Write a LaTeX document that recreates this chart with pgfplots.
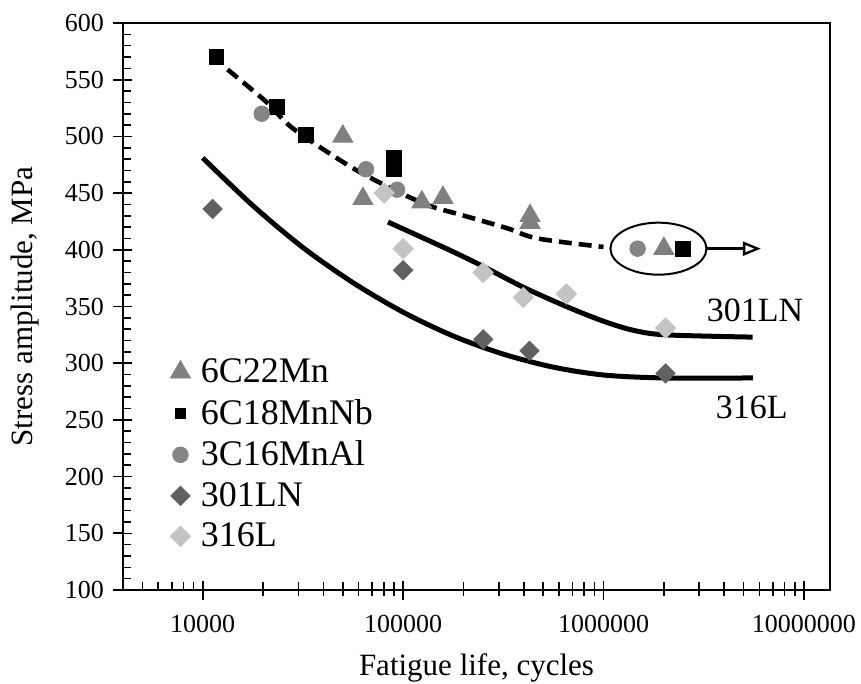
\documentclass[border=0pt]{standalone}
\usepackage{pgfplots}
\pgfplotsset{compat=1.18}
\usepackage{fontspec}
\setmainfont{Liberation Serif}
\usetikzlibrary{arrows.meta}
\definecolor{triG}{gray}{0.50}
\definecolor{cirG}{gray}{0.52}
\definecolor{darkD}{gray}{0.38}
\definecolor{lightD}{gray}{0.77}
\begin{document}
\begin{tikzpicture}
% outward halves of the major ticks
\begin{axis}[
  scale only axis, width=353.5pt, height=283.5pt,
  xmode=log, xmin=4000, xmax=1.35e7, ymin=100, ymax=600,
  xtick={1e4,1e5,1e6,1e7},
  ytick={100,150,200,250,300,350,400,450,500,550,600},
  tick pos=left,
  tick style={line width=0.8pt, black},
  xticklabels={}, yticklabels={},
  minor xtick={}, minor ytick={},
  tick align=outside, major tick length=5pt,
  axis line style={draw=none},
]
\end{axis}
\begin{axis}[
  scale only axis, width=353.5pt, height=283.5pt,
  xmode=log, xmin=4000, xmax=1.35e7, ymin=100, ymax=600,
  xtick={1e4,1e5,1e6,1e7},
  ytick={100,150,200,250,300,350,400,450,500,550,600},
  tick pos=left,
  tick style={line width=0.8pt, black},
  name=ax,
  clip=false,
  xticklabels={10000,100000,1000000,10000000},
  minor xtick={5000,6000,7000,8000,9000,20000,30000,40000,50000,60000,70000,80000,90000,200000,300000,400000,500000,600000,700000,800000,900000,2000000,3000000,4000000,5000000,6000000,7000000,8000000,9000000},
  yticklabels={100,150,200,250,300,350,400,450,500,550,600},
  minor ytick={110,120,130,140,160,170,180,190,210,220,230,240,260,270,280,290,310,320,330,340,360,370,380,390,410,420,430,440,460,470,480,490,510,520,530,540,560,570,580,590},
  tick align=inside,
  major tick length=4.5pt, minor tick length=4pt,
  axis line style={line width=1.1pt},
  ticklabel style={font=\fontsize{13}{15}\selectfont},
  xticklabel style={yshift=-9pt},
  yticklabel style={xshift=-6pt},
  every axis x label/.style={at={(axis description cs:0.5,-0.1376)}, anchor=center, font=\fontsize{15.5}{17}\selectfont},
  every axis y label/.style={at={(axis description cs:-0.1386,0.5)}, rotate=90, anchor=center, font=\fontsize{15.5}{17}\selectfont},
  xlabel={Fatigue life, cycles},
  ylabel={Stress amplitude, MPa},
  legend style={draw=none, fill=none, inner sep=0pt, at={(axis description cs:0.066,0.4155)}, anchor=north west,
    font=\fontsize{18}{20}\selectfont, row sep=2.8pt, nodes={inner sep=2pt},
    /tikz/every odd column/.append style={column sep=3pt}},
  legend cell align=left,
  legend image code/.code={\path (-5pt,0pt) (5pt,0pt); \draw[#1] plot coordinates {(0pt,0pt)};},
]
% trend lines
\addplot[forget plot, line width=2.3pt, black, dash pattern=on 6.5pt off 3.5pt, smooth, tension=0.5] coordinates {
(13300,559) (20900,530) (28200,507) (56200,472) (100000,449) (140000,438) (193000,431) (331000,419) (468000,410) (1000000,402.5)};
\addplot[forget plot, line width=2.5pt, black, smooth, tension=0.5] coordinates {
(84000,424.5) (160000,402) (243000,386.6) (398000,367) (661000,349.6) (1000000,337) (1410000,329) (2040000,325) (5550000,323)};
\addplot[forget plot, line width=2.5pt, black, smooth, tension=0.5] coordinates {
(10000,481) (17783,439) (31623,402) (56234,371) (100000,345) (177828,324) (316228,308) (562341,296.5) (1000000,289.6) (1995262,287) (5559043,287)};
% data
\addplot[only marks, mark=triangle*, mark size=5.8pt, color=triG] coordinates {
(50000,500) (63000,445) (124000,442) (158000,446) (430000,430) (430000,424) (2000000,401)};
\addlegendentry{6C22Mn}
\addplot[only marks, mark=square*, mark size=3.7pt, color=black, legend image post style={mark size=2.6pt}] coordinates {
(11700,570) (23400,526) (32700,501) (90000,481) (90000,471) (2500000,401)};
\addlegendentry{6C18MnNb}
\addplot[only marks, mark=*, mark size=3.9pt, color=cirG] coordinates {
(19700,520) (65300,471) (93300,453) (1480000,401)};
\addlegendentry{3C16MnAl}
\addplot[only marks, mark=square*, mark size=3.4pt, mark options={rotate=45}, color=darkD] coordinates {
(11200,436) (100000,382) (251000,321) (427000,311) (2040000,291)};
\addlegendentry{301LN}
\addplot[only marks, mark=square*, mark size=3.6pt, mark options={rotate=45}, color=lightD] coordinates {
(80400,450) (100000,401) (251000,380) (398000,358) (653000,361) (2040000,331)};
\addlegendentry{316L}
% annotations
\draw[line width=1pt] (axis cs:1.88e6,401) ellipse [x radius=24pt, y radius=13pt];
\draw[line width=1.2pt, -{Triangle[open,length=9pt,width=7pt]}] (axis cs:3.3e6,401) -- (axis cs:6.1e6,401);
\node[font=\fontsize{17}{17}\selectfont] at (axis cs:5.7e6,347) {301LN};
\node[font=\fontsize{17}{17}\selectfont] at (axis cs:5.5e6,261) {316L};
\end{axis}
\pgfresetboundingbox
\path ([xshift=-61.5pt,yshift=-47pt]ax.south west) rectangle ([xshift=15.5pt,yshift=11.5pt]ax.north east);
\end{tikzpicture}
\end{document}
